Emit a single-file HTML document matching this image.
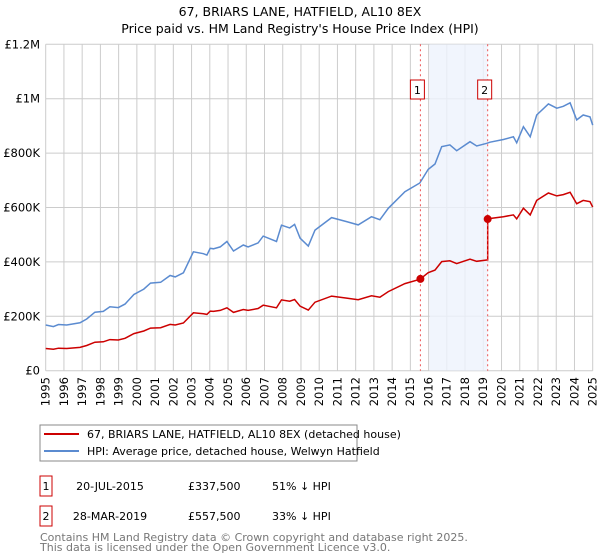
<!DOCTYPE html>
<html><head><meta charset="utf-8"><style>
body{margin:0;background:#fff;width:600px;height:560px;overflow:hidden;font-family:"DejaVu Sans","Liberation Sans",sans-serif}
svg{display:block}
</style></head><body>
<svg id="chart" width="600" height="560" xmlns="http://www.w3.org/2000/svg">
<g id="title" font-size="12.5" text-anchor="middle" fill="#000">
<text x="300" y="16">67, BRIARS LANE, HATFIELD, AL10 8EX</text>
<text x="300" y="33">Price paid vs. HM Land Registry's House Price Index (HPI)</text>
</g>
<g id="grid"></g>
<g id="shade"></g>
<g id="lines"></g>
<g id="yaxis" font-size="11.5" text-anchor="end"></g>
<g id="xaxis" font-size="11.5" text-anchor="end">
<text x="49.7" y="377" transform="rotate(-90 49.7 377)">1995</text>
<text x="67.9" y="377" transform="rotate(-90 67.9 377)">1996</text>
<text x="86.1" y="377" transform="rotate(-90 86.1 377)">1997</text>
<text x="104.3" y="377" transform="rotate(-90 104.3 377)">1998</text>
<text x="122.6" y="377" transform="rotate(-90 122.6 377)">1999</text>
<text x="140.8" y="377" transform="rotate(-90 140.8 377)">2000</text>
<text x="159.0" y="377" transform="rotate(-90 159.0 377)">2001</text>
<text x="177.3" y="377" transform="rotate(-90 177.3 377)">2002</text>
<text x="195.5" y="377" transform="rotate(-90 195.5 377)">2003</text>
<text x="213.7" y="377" transform="rotate(-90 213.7 377)">2004</text>
<text x="232.0" y="377" transform="rotate(-90 232.0 377)">2005</text>
<text x="250.2" y="377" transform="rotate(-90 250.2 377)">2006</text>
<text x="268.4" y="377" transform="rotate(-90 268.4 377)">2007</text>
<text x="286.6" y="377" transform="rotate(-90 286.6 377)">2008</text>
<text x="304.9" y="377" transform="rotate(-90 304.9 377)">2009</text>
<text x="323.1" y="377" transform="rotate(-90 323.1 377)">2010</text>
<text x="341.3" y="377" transform="rotate(-90 341.3 377)">2011</text>
<text x="359.6" y="377" transform="rotate(-90 359.6 377)">2012</text>
<text x="377.8" y="377" transform="rotate(-90 377.8 377)">2013</text>
<text x="396.0" y="377" transform="rotate(-90 396.0 377)">2014</text>
<text x="414.2" y="377" transform="rotate(-90 414.2 377)">2015</text>
<text x="432.5" y="377" transform="rotate(-90 432.5 377)">2016</text>
<text x="450.7" y="377" transform="rotate(-90 450.7 377)">2017</text>
<text x="468.9" y="377" transform="rotate(-90 468.9 377)">2018</text>
<text x="487.2" y="377" transform="rotate(-90 487.2 377)">2019</text>
<text x="505.4" y="377" transform="rotate(-90 505.4 377)">2020</text>
<text x="523.6" y="377" transform="rotate(-90 523.6 377)">2021</text>
<text x="541.9" y="377" transform="rotate(-90 541.9 377)">2022</text>
<text x="560.1" y="377" transform="rotate(-90 560.1 377)">2023</text>
<text x="578.3" y="377" transform="rotate(-90 578.3 377)">2024</text>
<text x="596.5" y="377" transform="rotate(-90 596.5 377)">2025</text>
</g>
<g>
<rect x="40" y="425" width="317" height="36" fill="#fff" stroke="#888"/>
<line x1="44" y1="434" x2="79" y2="434" stroke="#cc0000" stroke-width="2"/>
<text x="87" y="438" font-size="11">67, BRIARS LANE, HATFIELD, AL10 8EX (detached house)</text>
<line x1="44" y1="451" x2="79" y2="451" stroke="#5b8bd0" stroke-width="2"/>
<text x="87" y="455" font-size="11">HPI: Average price, detached house, Welwyn Hatfield</text>
</g>
<g font-size="11">
<rect x="40" y="476" width="12" height="20" fill="#fff" stroke="#cc0000"/>
<text x="46" y="490" text-anchor="middle">1</text>
<text x="110" y="490" text-anchor="middle">20-JUL-2015</text>
<text x="188" y="490">£337,500</text>
<text x="272" y="490">51% ↓ HPI</text>
<rect x="40" y="506" width="12" height="20" fill="#fff" stroke="#cc0000"/>
<text x="46" y="520" text-anchor="middle">2</text>
<text x="110" y="520" text-anchor="middle">28-MAR-2019</text>
<text x="188" y="520">£557,500</text>
<text x="272" y="520">33% ↓ HPI</text>
</g>
<g font-size="11" fill="#777">
<text x="40" y="541">Contains HM Land Registry data © Crown copyright and database right 2025.</text>
<text x="40" y="551">This data is licensed under the Open Government Licence v3.0.</text>
</g>
</svg>
<script>
var hpiYears=[1995.0,1995.42,1995.7,1996.15,1996.88,1997.25,1997.7,1998.16,1998.52,1998.98,1999.35,1999.84,2000.38,2000.75,2001.3,2001.82,2002.1,2002.55,2003.1,2003.65,2003.84,2004.02,2004.2,2004.57,2004.94,2005.3,2005.84,2006.1,2006.65,2006.93,2007.66,2007.93,2008.38,2008.65,2008.95,2009.4,2009.77,2010.68,2011.5,2012.14,2012.87,2013.33,2013.79,2014.7,2015.52,2015.98,2016.35,2016.72,2017.17,2017.54,2018.27,2018.64,2019.19,2019.37,2020.1,2020.65,2020.83,2021.2,2021.57,2021.93,2022.57,2023.03,2023.39,2023.76,2024.12,2024.48,2024.85,2025.0];
var hpiValues=[168000,162000,170000,168000,176000,190000,215000,218000,235000,232000,245000,280000,300000,322000,325000,350000,345000,360000,437000,430000,425000,450000,448000,455000,475000,440000,462000,455000,470000,495000,475000,535000,525000,538000,487000,458000,517000,563000,548000,536000,566000,555000,597000,658000,690000,740000,760000,824000,830000,809000,842000,826000,836000,840000,850000,860000,838000,897000,860000,940000,981000,965000,972000,985000,922000,940000,933000,903000];
var saleYears=[2015.55,2019.24];
var salePrices=[337500,557500];
var yTicks=[0,200000,400000,600000,800000,1000000,1200000];
var yTickLabels=["£0","£200K","£400K","£600K","£800K","£1M","£1.2M"];
var xTicks=[1995,1996,1997,1998,1999,2000,2001,2002,2003,2004,2005,2006,2007,2008,2009,2010,2011,2012,2013,2014,2015,2016,2017,2018,2019,2020,2021,2022,2023,2024,2025];

var NS="http://www.w3.org/2000/svg";
var X0=45.7,X1=592.7,Y0=370.7,Y1=44.3;
function xs(y){return X0+(y-1995)/30*(X1-X0);}
function ys(v){return Y0-v/1200000*(Y0-Y1);}
function mk(tag,attrs,parent){var e=document.createElementNS(NS,tag);for(var k in attrs)e.setAttribute(k,attrs[k]);parent.appendChild(e);return e;}
function hpiAt(t){
  if(t<=hpiYears[0])return hpiValues[0];
  for(var i=1;i<hpiYears.length;i++){if(t<=hpiYears[i]){var f=(t-hpiYears[i-1])/(hpiYears[i]-hpiYears[i-1]);return hpiValues[i-1]+f*(hpiValues[i]-hpiValues[i-1]);}}
  return hpiValues[hpiValues.length-1];
}
var grid=document.getElementById('grid'),yax=document.getElementById('yaxis');
yTicks.forEach(function(v,i){
  var l=mk('line',{x1:X0,x2:X1,y1:ys(v),y2:ys(v),stroke:'#cccccc','stroke-width':1},grid);
  
  
  var t=mk('text',{x:40,y:ys(v)+4},yax);t.textContent=yTickLabels[i];
  
  
});
xTicks.forEach(function(y){
  var l=mk('line',{x1:xs(y),x2:xs(y),y1:Y1,y2:Y0,stroke:'#cccccc','stroke-width':1},grid);
  
  
});
var sh=document.getElementById('shade');
var r=mk('rect',{x:xs(saleYears[0]+0.5),y:Y1,width:xs(saleYears[1])-xs(saleYears[0]+0.5),height:Y0-Y1,fill:'#eef3fd',opacity:0.8},sh);


var lines=document.getElementById('lines');
var d='';hpiYears.forEach(function(y,i){d+=(i?'L':'M')+xs(y).toFixed(1)+','+ys(hpiValues[i]).toFixed(1);});
var hp=mk('path',{d:d,fill:'none',stroke:'#5b8bd0','stroke-width':1.5},lines);


function priceAt(t){
  var k=0;for(var i=0;i<saleYears.length;i++){if(t>=saleYears[i])k=i;}
  return salePrices[k]*hpiAt(t)/hpiAt(saleYears[k]);
}
var pts=[];hpiYears.forEach(function(y){pts.push(y);});saleYears.forEach(function(y){pts.push(y);pts.push(y-0.001);});
pts.sort(function(a,b){return a-b;});
var d2='';pts.forEach(function(t,i){d2+=(i?'L':'M')+xs(t).toFixed(1)+','+ys(priceAt(t)).toFixed(1);});
var pp=mk('path',{d:d2,fill:'none',stroke:'#cc0000','stroke-width':1.5},lines);


saleYears.forEach(function(y,i){
  var v=mk('line',{x1:xs(y),x2:xs(y),y1:Y1,y2:Y0,stroke:'#ee5555','stroke-width':1,'stroke-dasharray':'2,3'},lines);
  
  
  var c=mk('circle',{cx:xs(y),cy:ys(salePrices[i]),r:4,fill:'#cc0000'},lines);
  
  
  var b=mk('rect',{x:xs(y)-10,y:80,width:14,height:19,fill:'#fff',stroke:'#cc0000'},lines);
  
  
  var t=mk('text',{x:xs(y)-3,y:94,'text-anchor':'middle','font-size':11},lines);t.textContent=String(i+1);
  
  
});
</script>
</body></html>
